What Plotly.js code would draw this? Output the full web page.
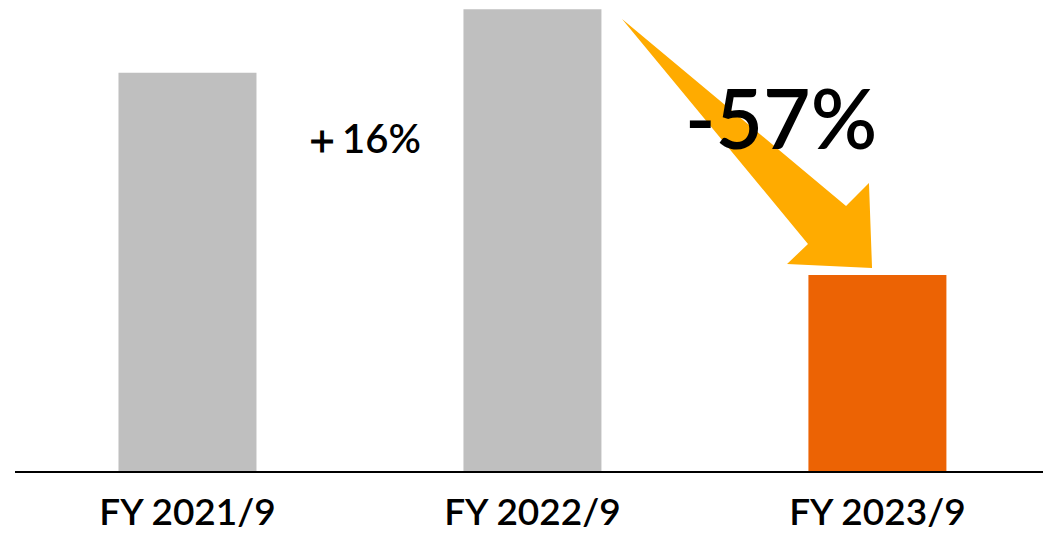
<!DOCTYPE html>
<html>
<head>
<meta charset="utf-8">
<script src="https://cdn.plot.ly/plotly-3.0.1.min.js"></script>
<style>html,body{margin:0;padding:0;background:#fff;}#chart{width:1043px;height:537px;}</style>
</head>
<body>
<div id="chart"></div>
<script>
// Data
const categories = ["FY 2021/9", "FY 2022/9", "FY 2023/9"];
const values = [100, 116, 49.2];
const barColors = ["#BFBFBF", "#BFBFBF", "#EC6304"];
const changeLabels = ["＋16%", "-57%"];

// Decorative arrow outline (paper coordinates)
const arrowX = [0.5905, 0.8084, 0.8307, 0.8337, 0.7510, 0.7714];
const arrowY = [0.9597, 0.5626, 0.6115, 0.4310, 0.4395, 0.4820];
let arrowPath = "";
for (let i = 0; i < arrowX.length; i++) {
  arrowPath += (i === 0 ? "M" : " L") + arrowX[i] + "," + arrowY[i];
}
arrowPath += " Z";

const trace = {
  type: "bar",
  x: categories,
  y: values,
  width: 0.4,
  marker: { color: barColors, line: { width: 0 } },
  hoverinfo: "skip"
};

const layout = {
  width: 1043,
  height: 537,
  margin: { l: 15, r: 0, t: 0, b: 66 },
  paper_bgcolor: "#ffffff",
  plot_bgcolor: "#ffffff",
  showlegend: false,
  font: { family: "Lato, 'Noto Sans', sans-serif", color: "#000" },
  xaxis: {
    type: "category",
    range: [-0.5, 2.48],
    showline: true,
    linecolor: "#000",
    linewidth: 2,
    ticks: "",
    ticklabelstandoff: 8,
    tickfont: { size: 37, color: "#000", family: "Lato, sans-serif", weight: 600 },
    showgrid: false,
    zeroline: false,
    fixedrange: true
  },
  yaxis: {
    range: [0, 118.3],
    visible: false,
    showgrid: false,
    zeroline: false,
    fixedrange: true
  },
  shapes: [
    {
      type: "path",
      xref: "paper",
      yref: "paper",
      path: arrowPath,
      fillcolor: "#FFAB00",
      line: { width: 0 },
      layer: "above"
    }
  ],
  annotations: [
    {
      text: changeLabels[0],
      x: 0.505, y: 83.6, xref: "x", yref: "y",
      showarrow: false,
      font: { size: 40, color: "#000", family: "Lato, sans-serif", weight: 600 },
      xanchor: "center", yanchor: "middle"
    },
    {
      text: changeLabels[1],
      x: 1.72, y: 88.9, xref: "x", yref: "y",
      showarrow: false,
      font: { size: 82, color: "#000", family: "Lato, sans-serif", weight: 600 },
      xanchor: "center", yanchor: "middle"
    }
  ]
};

Plotly.newPlot("chart", [trace], layout, { displayModeBar: false, staticPlot: true });
</script>
</body>
</html>
